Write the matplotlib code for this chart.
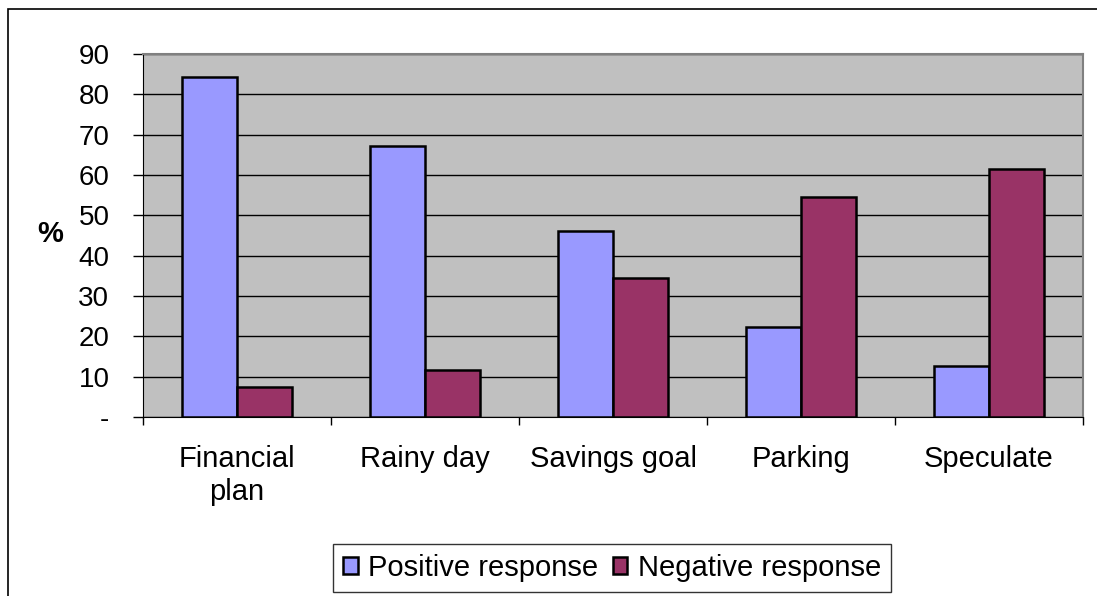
import matplotlib.pyplot as plt
import matplotlib.patches as patches
import numpy as np

categories = ["Financial\nplan", "Rainy day", "Savings goal", "Parking", "Speculate"]
positive = [84.2, 67.2, 46.2, 22.2, 12.7]
negative = [7.4, 11.7, 34.5, 54.5, 61.4]
y_ticks = [0, 10, 20, 30, 40, 50, 60, 70, 80, 90]
y_labels = ["-", "10", "20", "30", "40", "50", "60", "70", "80", "90"]

plt.rcParams["font.family"] = ["Liberation Sans", "DejaVu Sans"]

fig = plt.figure(figsize=(10.97, 5.96), dpi=100)
ax = fig.add_axes([143 / 1097, 1 - 417 / 596, 940 / 1097, 363 / 596])

# rahmen rundt hele diagrammet
fig.patches.append(patches.Rectangle((8 / 1097, -0.2), 1.2, 1.2 - 9 / 596,
                                     transform=fig.transFigure, fill=False,
                                     edgecolor="black", linewidth=1.2))

x = np.arange(len(categories))
w = 0.293
ax.set_facecolor("#C0C0C0")
ax.bar(x - w / 2, positive, w, color="#9999FF", edgecolor="black", linewidth=1.8,
       label="Positive response", zorder=3)
ax.bar(x + w / 2, negative, w, color="#993366", edgecolor="black", linewidth=1.8,
       label="Negative response", zorder=3)

ax.set_xlim(-0.5, len(categories) - 0.5)
ax.set_ylim(0, 90)
ax.set_yticks(y_ticks)
ax.set_yticklabels(y_labels, fontsize=20)
ax.tick_params(axis="y", length=7.2, width=1, pad=17)
ax.yaxis.grid(True, color="black", linewidth=1, zorder=1)
ax.set_axisbelow(True)

ax.set_xticks(np.arange(-0.5, len(categories), 1))
ax.set_xticklabels([])
ax.tick_params(axis="x", which="major", length=6, width=1, direction="out")
ax.set_xticks(x, minor=True)
ax.set_xticklabels(categories, minor=True, fontsize=21, linespacing=1.25)
ax.tick_params(axis="x", which="minor", length=0, pad=20)

for s in ["top", "right"]:
    ax.spines[s].set_color("#808080")
    ax.spines[s].set_linewidth(1.5)
ax.spines["left"].set_color("black")
ax.spines["bottom"].set_color("black")

fig.text(50 / 1097, 1 - 234 / 596, "%", fontsize=21, fontweight="bold",
         ha="center", va="center")

leg = fig.legend(loc="center", bbox_to_anchor=(612 / 1097, 1 - 568 / 596), ncol=2,
                 fontsize=21, frameon=True, fancybox=False, handlelength=0.5,
                 handleheight=0.5, handletextpad=0.35, columnspacing=0.5,
                 borderpad=0.35, borderaxespad=0, edgecolor="black")
leg.get_frame().set_linewidth(1)

fig.savefig("out.png", dpi=100)
